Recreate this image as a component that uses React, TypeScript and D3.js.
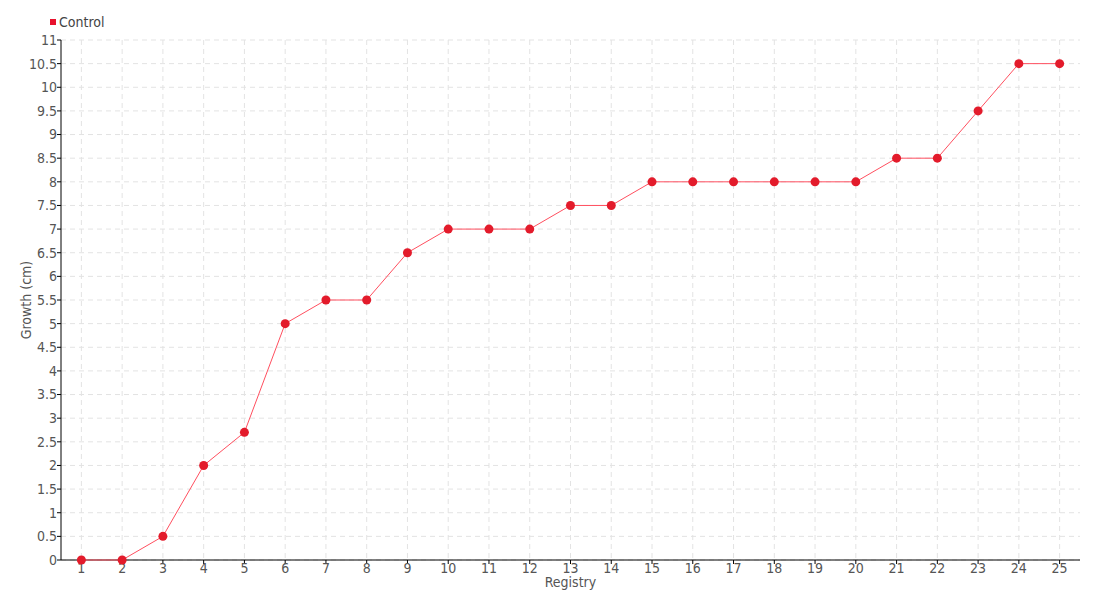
import * as d3 from "d3"

const registry = ["1","2","3","4","5","6","7","8","9","10","11","12","13","14","15","16","17","18","19","20","21","22","23","24","25"]
const growth = [0, 0, 0.5, 2, 2.7, 5, 5.5, 5.5, 6.5, 7, 7, 7, 7.5, 7.5, 8, 8, 8, 8, 8, 8, 8.5, 8.5, 9.5, 10.5, 10.5]
const yTicks = [0, 0.5, 1, 1.5, 2, 2.5, 3, 3.5, 4, 4.5, 5, 5.5, 6, 6.5, 7, 7.5, 8, 8.5, 9, 9.5, 10, 10.5, 11]
const seriesName = "Control"

const WIDTH = 1100
const HEIGHT = 600
const MARGIN = { left: 61, top: 40, right: 20, bottom: 40 }
const FONT = "'Liberation Sans Narrow', 'DejaVu Sans Condensed', 'Roboto', sans-serif"

export default function App() {
  const x = d3.scalePoint<string>()
    .domain(registry)
    .range([MARGIN.left, WIDTH - MARGIN.right])
    .padding(0.5)
  const y = d3.scaleLinear()
    .domain([0, 11])
    .range([HEIGHT - MARGIN.bottom, MARGIN.top])

  const line = d3.line<number>()
    .x((_, i) => x(registry[i]) as number)
    .y(d => y(d))

  const bottom = HEIGHT - MARGIN.bottom
  const right = WIDTH - MARGIN.right

  return (
    <svg
      width={WIDTH}
      height={HEIGHT}
      style={{ position: "absolute", left: 0, top: 0, fontFamily: FONT }}
    >
      <rect width={WIDTH} height={HEIGHT} fill="#fff" />
      {/* grid */}
      <g stroke="#e3e3e3" strokeDasharray="5,4" strokeWidth={1}>
        {yTicks.map(t => (
          <line key={"h" + t} x1={MARGIN.left} x2={right} y1={y(t)} y2={y(t)} />
        ))}
        {registry.map(r => (
          <line key={"v" + r} x1={x(r)} x2={x(r)} y1={MARGIN.top} y2={bottom} />
        ))}
      </g>
      {/* y axis */}
      <line x1={MARGIN.left} x2={MARGIN.left} y1={MARGIN.top} y2={bottom} stroke="#000" />
      {yTicks.map(t => (
        <g key={"yt" + t}>
          <line x1={MARGIN.left - 4} x2={MARGIN.left} y1={y(t)} y2={y(t)} stroke="#000" />
          <text x={MARGIN.left - 4} y={y(t)} dy="0.35em" textAnchor="end" fontSize={14} fill="#555">{t}</text>
        </g>
      ))}
      {/* x axis */}
      <line x1={MARGIN.left} x2={right} y1={bottom} y2={bottom} stroke="#000" />
      {registry.map(r => (
        <g key={"xt" + r}>
          <line x1={x(r)} x2={x(r)} y1={bottom} y2={bottom + 4} stroke="#000" />
          <text x={x(r)} y={bottom + 13} textAnchor="middle" fontSize={14} fill="#555">{r}</text>
        </g>
      ))}
      <text x={(MARGIN.left + right) / 2} y={bottom + 27} textAnchor="middle" fontSize={14} fill="#555">Registry</text>
      <text
        transform={`translate(31,${(MARGIN.top + bottom) / 2}) rotate(-90)`}
        textAnchor="middle"
        fontSize={14}
        fill="#555"
      >Growth (cm)</text>
      {/* series */}
      <path d={line(growth) ?? ""} fill="none" stroke="#ff4f5f" strokeWidth={1} />
      {growth.map((v, i) => (
        <circle key={"p" + i} cx={x(registry[i])} cy={y(v)} r={4.5} fill="#e31b2b" />
      ))}
      {/* legend */}
      <rect x={50} y={19} width={6} height={6} fill="#e8112d" />
      <text x={59} y={22} dy="0.35em" fontSize={14} fill="#444">{seriesName}</text>
    </svg>
  )
}
